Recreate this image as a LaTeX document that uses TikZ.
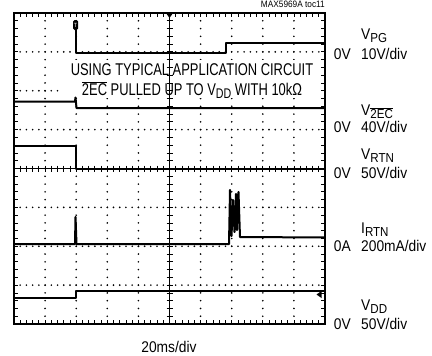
\documentclass[tikz,border=0pt]{standalone}
\usepackage{fontspec}
\setmainfont{Liberation Sans}[FakeStretch=0.89]
\newfontfamily\notefont{Liberation Sans}[FakeStretch=0.76]
\usetikzlibrary{positioning}

\tikzset{
  trace/.style = {line width = 2pt, line join = round},
  tickline/.style = {line width = 0.8pt},
  scopeframe/.style = {line width = 2.4pt},
  scalelbl/.style = {anchor = base west, inner sep = 0pt, font = \fontsize{15.5}{17}\selectfont},
  notelbl/.style = {anchor = base, inner sep = 0pt, font = \notefont\fontsize{17}{20}\selectfont},
}
\newcommand{\ovl}[1]{$\overline{\hbox{#1}}$}
\newcommand{\lblsub}[1]{\raisebox{-3.2pt}{\fontsize{13}{13}\selectfont #1}}
\newcommand{\notesub}[1]{\raisebox{-2.5pt}{\fontsize{14}{14}\selectfont #1}}

\begin{document}
\begin{tikzpicture}[x = 1pt, y = -1pt, node distance = 2pt and 10pt]
    \useasboundingbox (0,0) rectangle (432,356);
    % grid dots
    \foreach \i in {1,2,3,4,6,7,8,9} {
        \foreach \k in {1,...,39}
            \fill (14+31.1*\i, 13+7.775*\k) circle[radius = 0.9];
    }
    \foreach \j in {1,2,3,5,6,7} {
        \foreach \k in {1,...,49}
            \fill (14+6.22*\k, 13+38.875*\j) circle[radius = 0.9];
    }
    % blank behind the note
    \fill[white] (60,60) rectangle (323,98);
    % centre axes
    \draw[tickline] (169.5,13) -- (169.5,324);
    \draw[tickline] (14,168.5) -- (325,168.5);
    \foreach \k in {1,...,39}
        \draw[tickline] (166.5,13+7.775*\k) -- (172.5,13+7.775*\k);
    \foreach \k in {1,...,49}
        \draw[tickline] (14+6.22*\k,165.5) -- (14+6.22*\k,171.5);
    % frame ticks
    \foreach \k in {1,...,49} {
        \draw[tickline] (14+6.22*\k,13) -- ++(0,4);
        \draw[tickline] (14+6.22*\k,324) -- ++(0,-4);
    }
    \foreach \k in {1,...,39} {
        \draw[tickline] (14,13+7.775*\k) -- ++(4,0);
        \draw[tickline] (325,13+7.775*\k) -- ++(-4,0);
    }

    % traces
    \node[fill, rounded corners = 1.5pt, inner sep = 0pt, minimum width = 5pt, minimum height = 10pt,
          text = white, font = \fontsize{6}{6}\selectfont] (trig) at (75.5,25) {T};
    \draw[trace] (trig.south) -- (75.5,53) -- (226,53) -- (226,43) -- (325,43);
    \draw[trace] (14,101.5) -- (75,101.5) -- (75.5,97.5) -- (76.5,108) -- (325,108);
    \draw[trace] (14,146) -- (76,146) -- (76,168.5) -- (325,168.5);
    \draw[trace] (14,244) -- (75,244) -- (75.5,217) -- (76.5,244) -- (229,244)
        -- (230,190) -- (231.5,236) -- (233,200) -- (234.5,232) -- (236,194)
        -- (237,230) -- (238.5,192) -- (240,237) -- (325,237.5);
    \draw[trace] (14,297.5) -- (75.5,297.5) -- (75.5,290.5) -- (325,290.5);

    % markers
    \fill (166,13) -- (173,13) -- (169.5,18) -- cycle;
    \fill (316.5,294.5) -- (321.5,291) -- (321.5,298) -- cycle;
    \draw[scopeframe] (14,13) rectangle (325,324);

    % texts
    \node[anchor = base east, inner sep = 0pt, font = \fontsize{9.3}{10}\selectfont] (tocid) at (325,8) {MAX5969A toc11};
    \node[notelbl] (note1) at (192,75) {USING TYPICAL APPLICATION CIRCUIT};
    \node[notelbl] (note2) at (192,95.5) {\ovl{2EC} PULLED UP TO V\notesub{DD} WITH 10kΩ};

    \node[scalelbl] (pgname) at (361,39) {V\lblsub{PG}};
    \node[scalelbl] (pgdiv) at (361,59.3) {10V/div};
    \node[scalelbl, left = of pgdiv.base west, anchor = base east] (pgzero) {0V};
    \node[scalelbl] (ecname) at (361,115) {V\lblsub{\ovl{2EC}}};
    \node[scalelbl] (ecdiv) at (361,132) {40V/div};
    \node[scalelbl, left = of ecdiv.base west, anchor = base east] (eczero) {0V};
    \node[scalelbl] (rtnname) at (361,159.5) {V\lblsub{RTN}};
    \node[scalelbl] (rtndiv) at (361,178.5) {50V/div};
    \node[scalelbl, left = of rtndiv.base west, anchor = base east] (rtnzero) {0V};
    \node[scalelbl] (irtnname) at (361,233) {I\lblsub{RTN}};
    \node[scalelbl] (irtndiv) at (361,251.5) {200mA/div};
    \node[scalelbl, left = of irtndiv.base west, anchor = base east] (irtnzero) {0A};
    \node[scalelbl] (ddname) at (361,310.5) {V\lblsub{DD}};
    \node[scalelbl] (dddiv) at (361,329) {50V/div};
    \node[scalelbl, left = of dddiv.base west, anchor = base east] (ddzero) {0V};

    \node[anchor = base, inner sep = 0pt, font = \fontsize{15.5}{17}\selectfont] (timebase) at (169,352) {20ms/div};
\end{tikzpicture}
\end{document}
